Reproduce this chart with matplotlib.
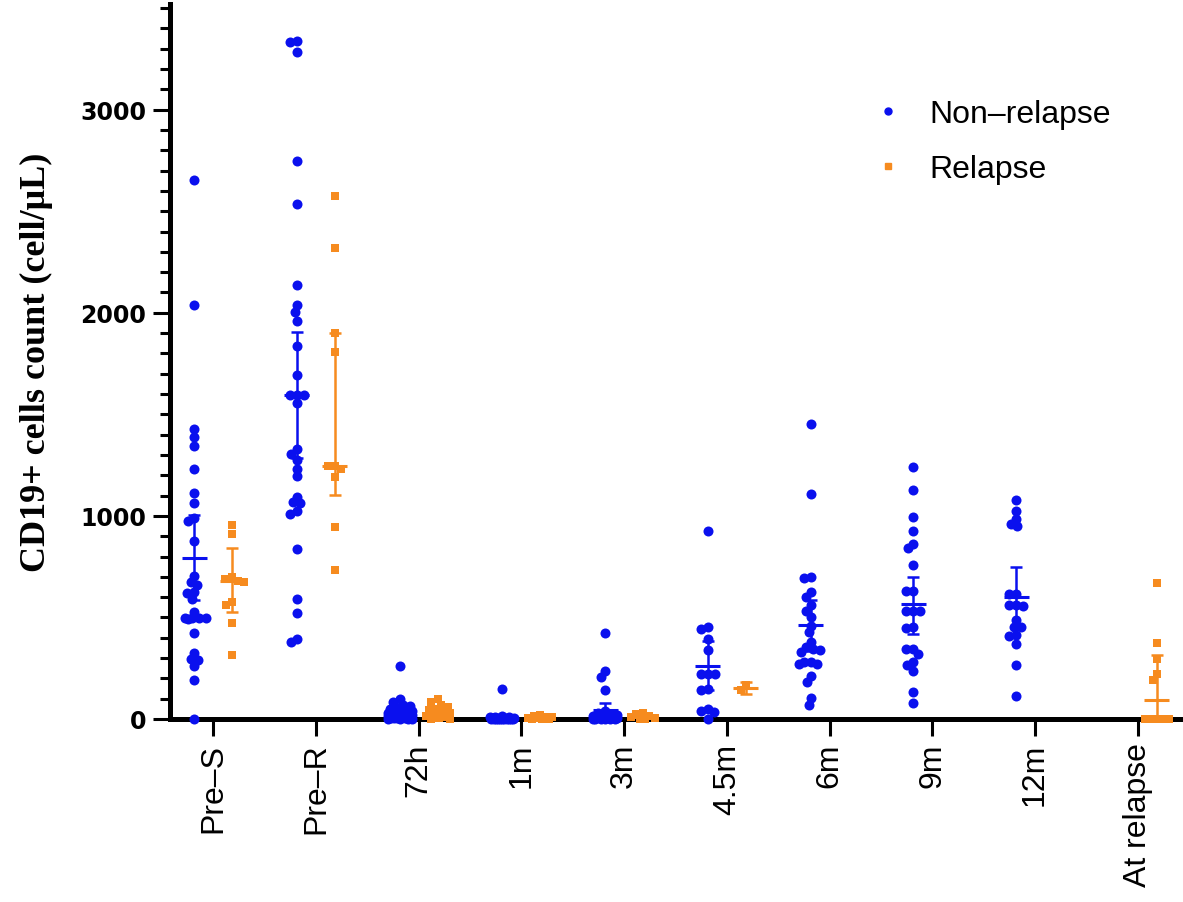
import matplotlib
matplotlib.use("Agg")
import matplotlib.pyplot as plt
import numpy as np
from matplotlib.lines import Line2D
from matplotlib.ticker import MultipleLocator, FixedLocator

# categories on the x axis
categories = ["Pre–S", "Pre–R", "72h", "1m", "3m", "4.5m", "6m", "9m", "12m", "At relapse"]

# Non-relapse values per time point (cell/uL)
nonrel_preS = [2655, 2038, 1427, 1386, 1345, 1233, 1115, 1061, 990, 975, 877, 704, 674, 658,
               625, 622, 592, 529, 497, 497, 497, 497, 490, 424, 326, 296, 292, 263, 194, 0]
nonrel_preR = [3338, 3335, 3286, 2747, 2536, 2138, 2039, 2006, 1961, 1834, 1694, 1595, 1595,
               1595, 1554, 1327, 1307, 1275, 1233, 1197, 1094, 1061, 1066, 1011, 1025, 835,
               592, 523, 378, 395]
nonrel_72h = [260, 99, 84, 70, 62, 55, 50, 45, 40, 36, 32, 30, 28, 25, 22, 20, 18, 16, 14,
              12, 10, 8, 6, 5, 4, 3, 2, 1, 0, 0]
nonrel_1m = [148, 15, 12, 10, 8, 6, 5, 4, 3, 2, 2, 1, 1, 0, 0, 0, 0, 0, 0, 0]
nonrel_3m = [423, 234, 205, 143, 40, 30, 25, 20, 15, 12, 10, 8, 5, 3, 0, 0, 0, 0, 0, 0]
nonrel_45m = [926, 455, 444, 395, 340, 222, 222, 222, 150, 145, 49, 41, 33, 0]
nonrel_6m = [1451, 1107, 700, 695, 625, 600, 562, 534, 500, 460, 427, 380, 354, 345, 340,
             330, 280, 271, 271, 280, 214, 184, 102, 69]
nonrel_9m = [1239, 1127, 995, 926, 842, 862, 757, 628, 628, 531, 531, 531, 449, 455, 345,
             345, 321, 280, 266, 238, 132, 77]
nonrel_12m = [1077, 1024, 983, 962, 949, 617, 617, 562, 556, 562, 488, 452, 455, 416, 411,
              370, 266, 112]
nonrel_atrel = []

# Relapse values per time point
rel_preS = [954, 909, 699, 691, 680, 674, 576, 559, 474, 317]
rel_preR = [2574, 2319, 1900, 1809, 1247, 1247, 1233, 1192, 946, 732]
rel_72h = [100, 85, 70, 60, 50, 42, 35, 28, 20, 14, 8, 4, 0, 0]
rel_1m = [22, 15, 10, 8, 5, 3, 2, 0, 0, 0]
rel_3m = [30, 25, 15, 10, 5, 0, 0]
rel_45m = [165, 142]
rel_6m = []
rel_9m = []
rel_12m = []
rel_atrel = [671, 375, 296, 222, 192, 0, 0, 0, 0, 0, 0, 0, 0, 0, 0, 0, 0, 0]

nonrel = [nonrel_preS, nonrel_preR, nonrel_72h, nonrel_1m, nonrel_3m, nonrel_45m,
          nonrel_6m, nonrel_9m, nonrel_12m, nonrel_atrel]
rel = [rel_preS, rel_preR, rel_72h, rel_1m, rel_3m, rel_45m, rel_6m, rel_9m, rel_12m, rel_atrel]

# centre line and error bar ends (None = no group)
nonrel_mid = [795, 1595, 40, 10, 45, 263, 461, 567, 603, None]
nonrel_lo = [584, 1283, 22, 3, 10, 143, 335, 419, 455, None]
nonrel_hi = [1003, 1904, 58, 18, 79, 383, 587, 699, 747, None]
rel_mid = [680, 1247, 35, 8, 12, 153, None, None, None, 95]
rel_lo = [529, 1105, 18, 2, 4, 123, None, None, None, 0]
rel_hi = [841, 1900, 55, 14, 22, 182, None, None, None, 317]

BLUE = '#0a10ee'
ORANGE = '#f68b1f'


def swarmOffsets(vals, pxPerUnit, d=7.0, wmax=12.0):
    """beeswarm offsets in pixels, points allowed to overlap a bit"""
    ypx = np.asarray(vals, dtype=float) * pxPerUnit
    offs = np.zeros(len(ypx))
    placed = []
    for i in np.argsort(-ypx, kind='stable'):
        y = ypx[i]
        cands = [0.0]
        for (px_, py_) in placed:
            dy = abs(py_ - y)
            if dy < d:
                dx = np.sqrt(d * d - dy * dy)
                cands += [px_ - dx, px_ + dx]
        cands = sorted(set(cands), key=lambda c: (abs(c), c))
        best = None
        for c in cands:
            if abs(c) > wmax + 1e-9:
                continue
            if all((c - px_) ** 2 + (y - py_) ** 2 >= d * d - 1e-6 for px_, py_ in placed):
                best = c
                break
        if best is None:
            grid = np.linspace(-wmax, wmax, 25)
            score = [min((g - px_) ** 2 + (y - py_) ** 2 for px_, py_ in placed) for g in grid]
            best = grid[int(np.argmax(score))]
        placed.append((best, y))
        offs[i] = best
    return offs


fig = plt.figure(figsize=(11.83, 9.03), dpi=100)
ax = fig.add_axes([170 / 1183, 183 / 903, 1013 / 1183, 715 / 903])
xmin, xmax = -0.42, 9.44
ymax = 3520
ax.set_xlim(xmin, xmax)
ax.set_ylim(0, ymax)

pxPerUnit = 715 / ymax
pxPerCat = 1013 / (xmax - xmin)
shift = 19 / pxPerCat
halfMean = 12.5 / pxPerCat

for i in range(len(categories)):
    for vals, mid, lo, hi, col, mk, sz, dx in [
            (nonrel[i], nonrel_mid[i], nonrel_lo[i], nonrel_hi[i], BLUE, 'o', 52, -shift),
            (rel[i], rel_mid[i], rel_lo[i], rel_hi[i], ORANGE, 's', 40, shift)]:
        if len(vals) == 0:
            continue
        xs = i + dx + swarmOffsets(vals, pxPerUnit) / pxPerCat
        ax.scatter(xs, vals, s=sz, marker=mk, color=col, linewidths=0, zorder=3, clip_on=False)
        if mid is not None:
            ax.errorbar([i + dx], [mid], yerr=[[mid - lo], [hi - mid]], fmt='none',
                        ecolor=col, elinewidth=1.8, capsize=4.6, capthick=1.8, zorder=4)
            ax.hlines(mid, i + dx - halfMean, i + dx + halfMean, color=col, lw=2.2, zorder=4)

for s in ['top', 'right']:
    ax.spines[s].set_visible(False)
for s in ['left', 'bottom']:
    ax.spines[s].set_linewidth(3.6)

ax.yaxis.set_major_locator(FixedLocator([0, 1000, 2000, 3000]))
ax.yaxis.set_minor_locator(MultipleLocator(100))
ax.tick_params(axis='y', which='major', length=12, width=2.2, pad=5, labelsize=17)
ax.tick_params(axis='y', which='minor', length=7, width=2.2)
for t in ax.get_yticklabels():
    t.set_fontweight('bold')
    t.set_fontfamily('DejaVu Sans')

ax.set_xticks(range(len(categories)))
ax.set_xticklabels(categories, rotation=90, fontsize=23, fontfamily='Liberation Sans')
ax.tick_params(axis='x', length=12, width=2.2, pad=5)

ax.set_ylabel('CD19+ cells count (cell/μL)', fontsize=26, fontweight='bold',
              fontfamily='Liberation Serif', labelpad=20)

handles = [Line2D([], [], marker='o', color=BLUE, ls='', markersize=5),
           Line2D([], [], marker='s', color=ORANGE, ls='', markersize=5)]
ax.legend(handles, ['Non–relapse', 'Relapse'], loc='upper left',
          bbox_to_anchor=(872 / 1183, 1 - 100 / 903), bbox_transform=fig.transFigure,
          frameon=False, prop={'family': 'Liberation Sans', 'size': 23},
          handlelength=1.0, handletextpad=0.8, labelspacing=0.78, borderpad=0,
          borderaxespad=0)

plt.savefig('out.png', dpi=100)
